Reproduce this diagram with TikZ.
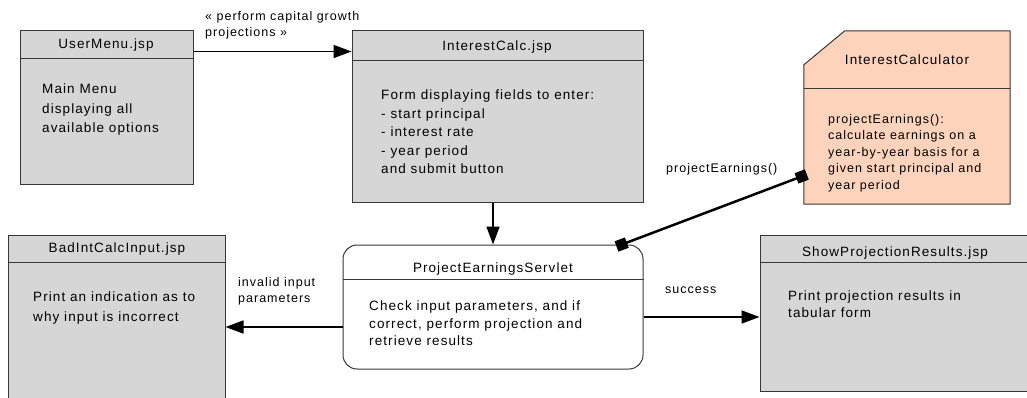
\documentclass[tikz,border=0pt]{standalone}
\usepackage{fontspec}
\setmainfont{Liberation Sans}[LetterSpace=8]
\usetikzlibrary{arrows.meta,calc}
\definecolor{boxgrey}{RGB}{214,214,214}
\definecolor{peach}{RGB}{253,211,188}
\definecolor{edgegrey}{RGB}{55,55,55}

\begin{document}
\begin{tikzpicture}[x=1pt,y=-1pt,
  font=\fontsize{13.5}{19.5}\selectfont,
  page/.style={draw=edgegrey,fill=boxgrey,line width=1pt,inner sep=0pt},
  title/.style={inner sep=0pt,anchor=center},
  body/.style={inner sep=0pt,anchor=north west,align=left},
  flow/.style={line width=1.6pt,-{Triangle[length=18pt,width=13pt]}},
  lbl/.style={inner sep=0pt,anchor=north west,align=left,font=\fontsize{12.5}{16}\selectfont}]

\clip (0,0) rectangle (1027,398);

% jsp pages
\node[page,minimum width=173,minimum height=154] (usermenu) at (106.5,108) {};
\node[page,minimum width=291,minimum height=171] (calcjsp) at (497.5,116.5) {};
\node[page,minimum width=217,minimum height=185] (badinput) at (116.5,327.5) {};
\node[page,minimum width=290,minimum height=156] (results) at (905,313) {};
% servlet
\node[draw=edgegrey,fill=white,line width=1pt,rounded corners=14pt,
  minimum width=300,minimum height=124] (servlet) at (493,307) {};
% bean with cut corner
\node[inner sep=0pt,minimum width=206,minimum height=173] (calculator) at (907,117.5) {};
\draw[edgegrey,fill=peach,line width=1pt] ($(calculator.north west)+(41,0)$)
  -- (calculator.north east) -- (calculator.south east)
  -- (calculator.south west) -- ($(calculator.north west)+(0,34)$) -- cycle;

% header lines
\draw[edgegrey] ($(usermenu.north west)+(0,28)$) -- ($(usermenu.north east)+(0,28)$);
\draw[edgegrey] ($(calcjsp.north west)+(0,30)$) -- ($(calcjsp.north east)+(0,30)$);
\draw[edgegrey] ($(badinput.north west)+(0,28)$) -- ($(badinput.north east)+(0,28)$);
\draw[edgegrey] ($(results.north west)+(0,28)$) -- ($(results.north east)+(0,28)$);
\draw[edgegrey] ($(servlet.north west)+(0,35)$) -- ($(servlet.north east)+(0,35)$);
\draw[edgegrey] ($(calculator.north west)+(0,57)$) -- ($(calculator.north east)+(0,57)$);

% titles
\node[title] (usermenutitle) at (106,45) {UserMenu.jsp};
\node[title] (calcjsptitle) at (497,47) {InterestCalc.jsp};
\node[title] (calculatortitle) at (907,60) {InterestCalculator};
\node[title] (badinputtitle) at (117,249) {BadIntCalcInput.jsp};
\node[title] (servlettitle) at (493,269) {ProjectEarningsServlet};
\node[title] (resultstitle) at (895,253) {ShowProjectionResults.jsp};

% bodies
\node[body] (usermenutext) at (42,84) {Main Menu\\displaying all\\available options};
\node[body,font=\fontsize{13.5}{18.5}\selectfont] (calcjsptext) at (381,90)
  {Form displaying fields to enter:\\- start principal\\- interest rate\\- year period\\and submit button};
\node[body,font=\fontsize{12.5}{16.5}\selectfont] (calculatortext) at (828,114)
  {projectEarnings():\\calculate earnings on a\\year-by-year basis for a\\given start principal and\\year period};
\node[body] (badinputtext) at (33,292) {Print an indication as to\\why input is incorrect};
\node[body,font=\fontsize{13.5}{17.5}\selectfont] (servlettext) at (369,301)
  {Check input parameters, and if\\correct, perform projection and\\retrieve results};
\node[body,font=\fontsize{13.5}{17}\selectfont] (resultstext) at (788,291)
  {Print projection results in\\tabular form};

% connectors
\draw[flow] ($(usermenu.north east)+(0,21)$) -- ($(calcjsp.north west)+(0,21)$);
\node[lbl] (growth) at (205,11) {« perform capital growth\\projections »};
\draw[flow] (calcjsp.south -| servlet.north) -- (servlet.north);
\coordinate (badin) at ($(servlet.west)+(0,20)$);
\draw[flow] (badin) -- (badin -| badinput.east);
\node[lbl] (invalid) at (238,277) {invalid input\\parameters};
\coordinate (okout) at ($(servlet.east)+(0,10)$);
\draw[flow] (okout) -- (okout -| results.west);
\node[lbl] (success) at (665,287) {success};
\draw[line width=2.5pt,{Square[length=11pt,width=11pt]}-{Square[length=11pt,width=11pt]}]
  ($(servlet.north east)+(-27,2)$) -- ($(calculator.west)+(3,57)$);
\node[lbl] (call) at (666,163) {projectEarnings()};
\end{tikzpicture}
\end{document}
